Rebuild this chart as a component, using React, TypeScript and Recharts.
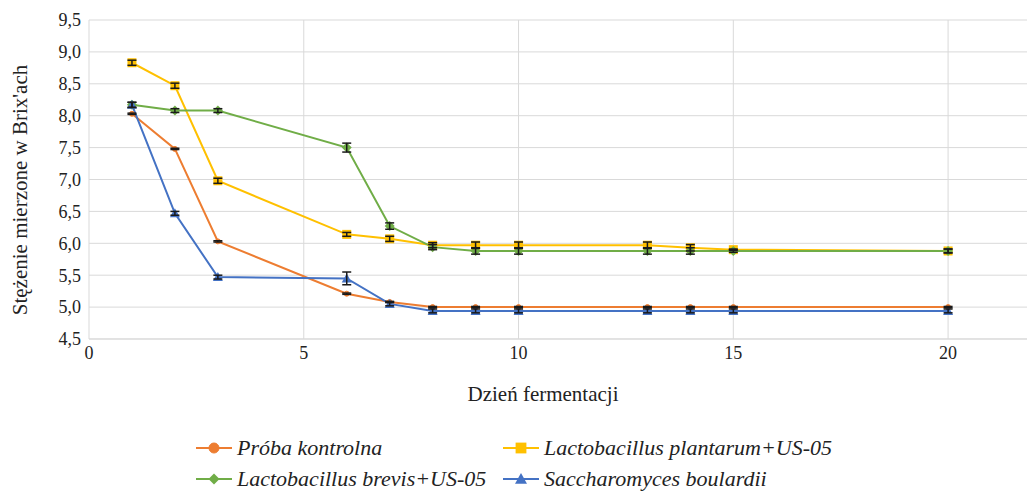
import React from "react";
import {
  CartesianGrid,
  ErrorBar,
  Label,
  Legend,
  Line,
  LineChart,
  XAxis,
  YAxis,
} from "recharts";

// fermentation days
const days = [1, 2, 3, 6, 7, 8, 9, 10, 13, 14, 15, 20];

// sugar content (°Brix) per sample, with standard deviations
const kontrolna = [8.03, 7.48, 6.03, 5.21, 5.08, 5.0, 5.0, 5.0, 5.0, 5.0, 5.0, 5.0];
const kontrolnaErr = [0.01, 0.01, 0.01, 0.01, 0.01, 0.01, 0.01, 0.01, 0.01, 0.01, 0.01, 0.01];

const plantarum = [8.83, 8.47, 6.98, 6.14, 6.07, 5.97, 5.97, 5.97, 5.97, 5.93, 5.9, 5.88];
const plantarumErr = [0.04, 0.04, 0.04, 0.03, 0.04, 0.04, 0.05, 0.05, 0.05, 0.05, 0.01, 0.03];

const brevis = [8.17, 8.08, 8.08, 7.5, 6.27, 5.94, 5.88, 5.88, 5.88, 5.88, 5.88, 5.88];
const brevisErr = [0.04, 0.03, 0.03, 0.07, 0.05, 0.04, 0.05, 0.05, 0.05, 0.05, 0.02, 0.03];

const boulardii = [8.17, 6.47, 5.47, 5.45, 5.05, 4.94, 4.94, 4.94, 4.94, 4.94, 4.94, 4.94];
const boulardiiErr = [0.04, 0.03, 0.03, 0.1, 0.03, 0.03, 0.03, 0.03, 0.03, 0.03, 0.03, 0.03];

const xTicks = [0, 5, 10, 15, 20];
const yTicks = [4.5, 5, 5.5, 6, 6.5, 7, 7.5, 8, 8.5, 9, 9.5];

const data = days.map((d, i) => ({
  day: d,
  kontrolna: kontrolna[i],
  kontrolnaErr: kontrolnaErr[i],
  plantarum: plantarum[i],
  plantarumErr: plantarumErr[i],
  brevis: brevis[i],
  brevisErr: brevisErr[i],
  boulardii: boulardii[i],
  boulardiiErr: boulardiiErr[i],
}));

const FONT = '"Liberation Serif", "Times New Roman", serif';
const TEXT = "#222";

type Shape = "circle" | "square" | "diamond" | "triangle";

const Marker = ({ cx, cy, shape, color, size = 1 }: { cx: number; cy: number; shape: Shape; color: string; size?: number }) => {
  if (shape === "circle") return <circle cx={cx} cy={cy} r={2.5 * size} fill={color} stroke={color} />;
  if (shape === "square") {
    const h = 4.5 * size;
    return <rect x={cx - h} y={cy - h} width={2 * h} height={2 * h} fill={color} />;
  }
  const r = 5 * size;
  if (shape === "diamond")
    return <polygon points={`${cx},${cy - r} ${cx + r},${cy} ${cx},${cy + r} ${cx - r},${cy}`} fill={color} />;
  return <polygon points={`${cx},${cy - r} ${cx + r},${cy + 0.8 * r} ${cx - r},${cy + 0.8 * r}`} fill={color} />;
};

const series = [
  { key: "kontrolna", name: "Próba kontrolna", color: "#ED7D31", shape: "circle" as Shape, legendSize: 2 },
  { key: "plantarum", name: "Lactobacillus plantarum+US-05", color: "#FFC000", shape: "square" as Shape, legendSize: 1.2 },
  { key: "brevis", name: "Lactobacillus brevis+US-05", color: "#70AD47", shape: "diamond" as Shape, legendSize: 1.1 },
  { key: "boulardii", name: "Saccharomyces boulardii", color: "#4472C4", shape: "triangle" as Shape, legendSize: 1.2 },
];

const LegendContent = () => (
  <div
    style={{
      display: "grid",
      gridTemplateColumns: "307px 330px",
      fontFamily: FONT,
      fontStyle: "italic",
      fontSize: 22,
      color: TEXT,
      whiteSpace: "nowrap",
    }}
  >
    {series.map((s) => (
      <div key={s.key} style={{ display: "flex", alignItems: "center", height: 31 }}>
        <svg width={36} height={16} style={{ marginRight: 5 }}>
          <line x1={0} y1={8} x2={36} y2={8} stroke={s.color} strokeWidth={2} />
          <Marker cx={18} cy={8} shape={s.shape} color={s.color} size={s.legendSize} />
        </svg>
        <span>{s.name}</span>
      </div>
    ))}
  </div>
);

const App: React.FC = () => {
  return (
    <div style={{ position: "absolute", left: 0, top: 0, width: 1027, height: 491, overflow: "hidden", background: "#fff" }}>
      <LineChart width={1040} height={491} data={data} margin={{ top: 20, right: 6, left: 0, bottom: 122 }}>
        <CartesianGrid stroke="#d9d9d9" strokeWidth={1} />
        <XAxis
          dataKey="day"
          type="number"
          domain={[0, 22]}
          ticks={xTicks}
          tickLine={false}
          tickSize={5}
          axisLine={{ stroke: "#d9d9d9" }}
          height={30}
          tick={{ fontFamily: FONT, fontSize: 18, fill: TEXT }}
        >
          <Label
            content={() => (
              <text x={543} y={401} textAnchor="middle" fontFamily={FONT} fontSize={21} fill={TEXT}>
                Dzień fermentacji
              </text>
            )}
          />
        </XAxis>
        <YAxis
          type="number"
          domain={[4.5, 9.5]}
          ticks={yTicks}
          width={89}
          tickLine={false}
          axisLine={false}
          tick={{ fontFamily: FONT, fontSize: 18, fill: TEXT }}
          tickFormatter={(v: number) => v.toFixed(1).replace(".", ",")}
        >
          <Label
            content={() => (
              <text
                x={0}
                y={0}
                transform="translate(27 190) rotate(-90)"
                textAnchor="middle"
                fontFamily={FONT}
                fontSize={21}
                fill={TEXT}
              >
                Stężenie mierzone w Brix'ach
              </text>
            )}
          />
        </YAxis>
        <Legend
          layout="horizontal"
          verticalAlign="middle"
          align="center"
          content={() => <LegendContent />}
          wrapperStyle={{ position: "absolute", left: 196, top: 432, width: 660 }}
        />
        {series.map((s) => (
          <Line
            key={s.key}
            dataKey={s.key}
            name={s.name}
            stroke={s.color}
            strokeWidth={2}
            isAnimationActive={false}
            dot={(p: any) => <Marker key={`${s.key}-${p.index}`} cx={p.cx} cy={p.cy} shape={s.shape} color={s.color} />}
            activeDot={false}
          />
        ))}
        {/* error bars drawn last so they sit above the markers */}
        {series.map((s) => (
          <Line
            key={`${s.key}-err`}
            dataKey={s.key}
            stroke="none"
            dot={false}
            activeDot={false}
            legendType="none"
            isAnimationActive={false}
            zIndex={900}
          >
            <ErrorBar
              dataKey={`${s.key}Err`}
              direction="y"
              width={4.5}
              stroke="#1a1a1a"
              strokeWidth={1.5}
              zIndex={1000}
            />
          </Line>
        ))}
      </LineChart>
    </div>
  );
};

export default App;
